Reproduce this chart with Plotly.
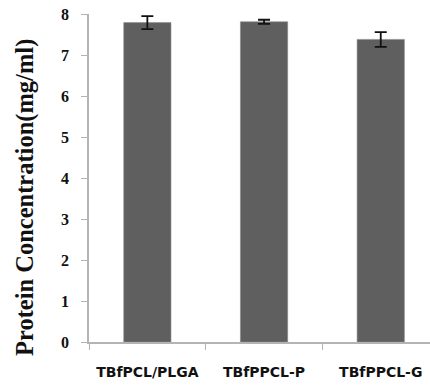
import plotly.graph_objects as go

categories = ["TBfPCL/PLGA", "TBfPPCL-P", "TBfPPCL-G"]
values = [7.79, 7.81, 7.38]
errors = [0.16, 0.05, 0.18]
y_ticks = [0, 1, 2, 3, 4, 5, 6, 7, 8]
y_title = "Protein Concentration(mg/ml)"

fig = go.Figure()
fig.add_trace(go.Bar(
    x=categories, y=values,
    marker=dict(color="#5f5f5f", line=dict(color="#8a8a8a", width=0.6)),
    error_y=dict(type="data", array=errors, visible=True, color="#111111",
                 thickness=1.8, width=6),
    width=0.405,
))

fig.update_layout(
    width=430, height=386,
    margin=dict(l=89, r=0, t=14, b=44, autoexpand=False),
    paper_bgcolor="white", plot_bgcolor="white",
    showlegend=False,
    xaxis=dict(
        type="category",
        range=[-0.5, 2.422],
        automargin=False,
        showline=True, linecolor="#b4b4b4", linewidth=1.5,
        ticks="outside", tickson="boundaries", ticklen=6, tickcolor="#b4b4b4",
        tickfont=dict(family="DejaVu Sans", size=14, color="#111111", weight="bold"),
        ticklabelstandoff=16,
        showgrid=False, zeroline=False,
    ),
    yaxis=dict(
        range=[0, 8],
        tickvals=y_ticks,
        automargin=False,
        showline=True, linecolor="#b4b4b4", linewidth=1.5,
        ticks="outside", ticklen=6, tickcolor="#b4b4b4",
        tickfont=dict(family="Liberation Serif", size=16, color="#111111", weight="bold"),
        ticklabelstandoff=9,
        showgrid=False, zeroline=False,
    ),
    annotations=[dict(
        text=y_title, textangle=-90, showarrow=False,
        xref="paper", yref="paper", x=-64 / 341, y=0.439,
        xanchor="center", yanchor="middle",
        font=dict(family="Liberation Serif", size=24.5, color="#111111", weight="bold"),
    )],
)

fig.write_html(
    "out.html",
    config={"displayModeBar": False},
    post_script="document.body.style.margin='0';document.body.style.overflow='hidden';",
)
